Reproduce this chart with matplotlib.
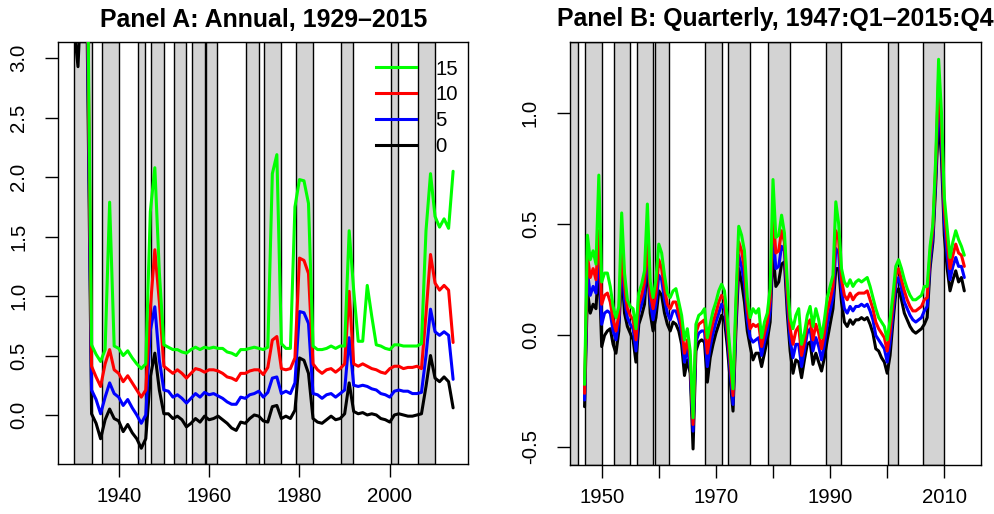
import numpy as np
import matplotlib
matplotlib.use('Agg')
import matplotlib.pyplot as plt
from matplotlib.lines import Line2D
from matplotlib.ticker import FormatStrFormatter

plt.rcParams['font.family'] = ['Liberation Sans', 'DejaVu Sans']

# Panel A: annual, 1930-2014
years_a = np.arange(1930, 2015)
a_0 = [3.30, 2.93, 3.80, 3.30, 0.01, -0.07, -0.20, -0.04, 0.05, -0.03,
       -0.05, -0.14, -0.08, -0.15, -0.20, -0.28, -0.20, 0.32, 0.52, 0.21,
       0.01, 0.01, -0.03, -0.01, -0.04, -0.10, -0.07, -0.03, -0.06, -0.01,
       -0.04, -0.03, -0.01, -0.04, -0.07, -0.11, -0.13, -0.06, -0.07, -0.03,
       0.00, -0.01, -0.05, -0.06, 0.07, 0.08, -0.03, -0.01, -0.03, 0.04,
       0.48, 0.46, 0.35, -0.03, -0.06, -0.07, -0.04, -0.01, -0.04, -0.03,
       0.01, 0.27, 0.03, 0.01, 0.02, 0.00, 0.01, 0.00, -0.03, -0.04,
       -0.06, 0.00, 0.01, 0.00, -0.01, -0.01, 0.00, 0.01, 0.24, 0.50,
       0.31, 0.28, 0.32, 0.28, 0.06]
a_5 = [3.60, 3.40, 4.20, 3.60, 0.21, 0.13, 0.01, 0.15, 0.27, 0.18,
       0.15, 0.08, 0.13, 0.06, 0.00, -0.07, 0.00, 0.71, 0.91, 0.46,
       0.21, 0.20, 0.15, 0.17, 0.14, 0.10, 0.14, 0.18, 0.15, 0.19,
       0.17, 0.18, 0.16, 0.14, 0.11, 0.09, 0.09, 0.15, 0.14, 0.17,
       0.18, 0.20, 0.15, 0.19, 0.31, 0.32, 0.18, 0.20, 0.18, 0.27,
       0.87, 0.86, 0.77, 0.18, 0.17, 0.14, 0.17, 0.18, 0.15, 0.18,
       0.21, 0.65, 0.25, 0.24, 0.25, 0.24, 0.22, 0.21, 0.18, 0.17,
       0.15, 0.20, 0.21, 0.20, 0.20, 0.18, 0.18, 0.19, 0.50, 0.89,
       0.70, 0.67, 0.70, 0.67, 0.30]
a_10 = [4.00, 3.70, 4.60, 3.85, 0.41, 0.32, 0.24, 0.43, 0.55, 0.38,
        0.35, 0.28, 0.33, 0.27, 0.21, 0.15, 0.21, 0.90, 1.39, 0.95,
        0.41, 0.38, 0.35, 0.38, 0.35, 0.31, 0.35, 0.39, 0.38, 0.36,
        0.38, 0.38, 0.37, 0.35, 0.32, 0.31, 0.29, 0.35, 0.35, 0.37,
        0.38, 0.38, 0.34, 0.40, 0.63, 0.66, 0.39, 0.38, 0.39, 0.48,
        1.32, 1.30, 1.19, 0.43, 0.38, 0.35, 0.38, 0.39, 0.36, 0.39,
        0.43, 1.04, 0.43, 0.41, 0.43, 0.41, 0.39, 0.38, 0.36, 0.35,
        0.39, 0.41, 0.41, 0.39, 0.40, 0.40, 0.41, 0.39, 0.85, 1.35,
        1.11, 1.05, 1.09, 1.05, 0.61]
a_15 = [4.40, 4.00, 5.00, 4.10, 0.59, 0.51, 0.45, 0.55, 1.79, 0.58,
        0.56, 0.50, 0.54, 0.48, 0.43, 0.39, 0.43, 1.71, 2.08, 1.20,
        0.59, 0.57, 0.55, 0.55, 0.53, 0.52, 0.55, 0.57, 0.55, 0.57,
        0.56, 0.57, 0.56, 0.56, 0.53, 0.52, 0.50, 0.55, 0.55, 0.56,
        0.57, 0.56, 0.55, 0.57, 2.03, 2.19, 0.60, 0.56, 0.56, 1.75,
        1.98, 1.97, 1.78, 0.58, 0.55, 0.55, 0.56, 0.58, 0.56, 0.58,
        0.58, 1.55, 1.05, 0.62, 0.62, 1.09, 0.83, 0.59, 0.58, 0.56,
        0.55, 0.59, 0.59, 0.58, 0.58, 0.58, 0.58, 0.60, 1.55, 2.03,
        1.67, 1.58, 1.65, 1.57, 2.05]

# Panel B: half-yearly readings, 1947.0-2013.5
t_b = np.arange(1947.0, 2014.0, 0.5)
b_0 = [-0.32, 0.20, 0.10, 0.14, 0.12, 0.33, -0.05, 0.00, 0.02, 0.03,
       -0.04, -0.08, 0.02, 0.30, 0.10, 0.04, 0.01, -0.02, -0.12, 0.05,
       0.09, 0.14, 0.34, 0.10, 0.02, 0.08, 0.20, 0.18, 0.10, 0.05,
       0.02, 0.06, 0.05, 0.02, -0.04, -0.18, -0.11, -0.17, -0.51, -0.07,
       -0.03, -0.02, -0.03, -0.21, -0.10, -0.04, 0.01, 0.05, 0.09, 0.07,
       -0.05, -0.20, -0.34, 0.02, 0.30, 0.24, 0.15, 0.02, -0.05, -0.11,
       -0.08, -0.08, -0.14, -0.08, -0.02, 0.06, 0.38, 0.22, 0.24, 0.32,
       0.33, 0.10, -0.07, -0.17, -0.11, -0.12, -0.19, -0.11, -0.04, -0.03,
       -0.13, -0.08, -0.12, -0.16, -0.10, -0.02, 0.05, 0.12, 0.30, 0.30,
       0.15, 0.06, 0.04, 0.07, 0.05, 0.07, 0.07, 0.08, 0.07, 0.08,
       0.05, 0.01, -0.06, -0.07, -0.10, -0.12, -0.17, -0.09, 0.06, 0.19,
       0.21, 0.16, 0.10, 0.07, 0.04, 0.02, 0.01, 0.02, 0.03, 0.05,
       0.08, 0.30, 0.42, 0.68, 0.99, 0.80, 0.45, 0.30, 0.20, 0.25,
       0.29, 0.24, 0.26, 0.20]
b_5 = [-0.29, 0.29, 0.18, 0.22, 0.19, 0.40, 0.05, 0.10, 0.11, 0.10,
       0.02, -0.02, 0.06, 0.35, 0.16, 0.08, 0.05, 0.03, -0.07, 0.10,
       0.14, 0.19, 0.39, 0.15, 0.07, 0.14, 0.27, 0.25, 0.16, 0.10,
       0.07, 0.11, 0.11, 0.07, 0.01, -0.12, -0.06, -0.14, -0.43, -0.03,
       0.01, 0.02, 0.02, -0.14, -0.05, 0.01, 0.06, 0.10, 0.14, 0.12,
       0.00, -0.16, -0.31, 0.07, 0.36, 0.31, 0.23, 0.07, -0.01, -0.03,
       -0.02, -0.01, -0.09, -0.03, 0.02, 0.11, 0.47, 0.30, 0.31, 0.40,
       0.38, 0.15, -0.02, -0.10, -0.04, -0.04, -0.14, -0.07, 0.01, 0.03,
       -0.07, -0.01, -0.05, -0.11, -0.04, 0.05, 0.11, 0.17, 0.39, 0.37,
       0.20, 0.12, 0.10, 0.13, 0.11, 0.13, 0.13, 0.14, 0.13, 0.14,
       0.11, 0.07, 0.00, -0.02, -0.04, -0.06, -0.12, -0.03, 0.10, 0.23,
       0.26, 0.21, 0.15, 0.12, 0.09, 0.07, 0.06, 0.07, 0.08, 0.11,
       0.13, 0.33, 0.45, 0.72, 1.09, 0.87, 0.51, 0.36, 0.25, 0.31,
       0.35, 0.31, 0.31, 0.26]
b_10 = [-0.26, 0.36, 0.26, 0.30, 0.25, 0.47, 0.14, 0.18, 0.19, 0.15,
        0.07, 0.02, 0.09, 0.39, 0.22, 0.12, 0.09, 0.07, -0.02, 0.14,
        0.18, 0.24, 0.43, 0.19, 0.12, 0.19, 0.34, 0.30, 0.21, 0.14,
        0.12, 0.15, 0.15, 0.10, 0.04, -0.08, -0.02, -0.10, -0.40, 0.01,
        0.05, 0.06, 0.07, -0.08, 0.00, 0.06, 0.10, 0.15, 0.18, 0.16,
        0.03, -0.12, -0.27, 0.11, 0.42, 0.38, 0.30, 0.12, 0.03, 0.05,
        0.04, 0.05, -0.05, 0.01, 0.06, 0.16, 0.55, 0.37, 0.38, 0.47,
        0.42, 0.19, 0.03, -0.04, 0.02, 0.04, -0.09, -0.03, 0.05, 0.07,
        -0.02, 0.05, 0.01, -0.06, 0.01, 0.11, 0.16, 0.22, 0.47, 0.43,
        0.25, 0.18, 0.16, 0.19, 0.16, 0.18, 0.19, 0.19, 0.19, 0.20,
        0.16, 0.12, 0.06, 0.03, 0.01, -0.01, -0.07, 0.02, 0.14, 0.27,
        0.30, 0.25, 0.20, 0.16, 0.13, 0.11, 0.11, 0.12, 0.13, 0.16,
        0.17, 0.37, 0.48, 0.76, 1.16, 0.93, 0.57, 0.42, 0.30, 0.36,
        0.41, 0.37, 0.36, 0.31]
b_15 = [-0.22, 0.45, 0.34, 0.38, 0.32, 0.72, 0.24, 0.28, 0.28, 0.22,
        0.13, 0.08, 0.13, 0.55, 0.28, 0.16, 0.13, 0.12, 0.03, 0.19,
        0.23, 0.29, 0.59, 0.24, 0.17, 0.25, 0.41, 0.37, 0.27, 0.19,
        0.17, 0.20, 0.21, 0.15, 0.09, -0.02, 0.03, -0.07, -0.37, 0.05,
        0.09, 0.10, 0.12, -0.01, 0.05, 0.11, 0.15, 0.20, 0.23, 0.20,
        0.08, -0.08, -0.24, 0.16, 0.49, 0.45, 0.38, 0.17, 0.08, 0.12,
        0.10, 0.12, -0.01, 0.06, 0.10, 0.21, 0.70, 0.44, 0.45, 0.54,
        0.46, 0.24, 0.08, 0.03, 0.09, 0.12, -0.04, 0.01, 0.09, 0.13,
        0.04, 0.12, 0.07, -0.01, 0.07, 0.17, 0.22, 0.27, 0.60, 0.50,
        0.30, 0.24, 0.22, 0.25, 0.22, 0.24, 0.25, 0.24, 0.25, 0.26,
        0.22, 0.17, 0.12, 0.08, 0.06, 0.04, -0.02, 0.07, 0.18, 0.31,
        0.34, 0.30, 0.25, 0.21, 0.18, 0.16, 0.16, 0.17, 0.18, 0.22,
        0.22, 0.40, 0.50, 0.80, 1.24, 1.00, 0.62, 0.48, 0.35, 0.42,
        0.47, 0.43, 0.40, 0.36]

# shaded periods (start, end)
bands = [(1930.2, 1934.0), (1936.2, 1940.0), (1944.2, 1945.9), (1947.1, 1950.0),
         (1952.15, 1954.9), (1956.2, 1959.0), (1959.25, 1961.85), (1968.15, 1971.0),
         (1972.2, 1975.95), (1979.2, 1983.0), (1989.2, 1991.85), (2000.2, 2001.9),
         (2006.3, 2010.0)]

labels = ['0', '5', '10', '15']
colors = ['black', '#0000FF', '#FF0000', '#00FF00']

fig = plt.figure(figsize=(9.95, 5.14), dpi=100)
axA = fig.add_axes([0.05859, 0.09669, 0.41206, 0.82101])
axB = fig.add_axes([0.57286, 0.09533, 0.41276, 0.82354])


def setup(ax):
    for s, e in bands:
        ax.axvspan(s, e, facecolor='#D3D3D3', edgecolor='black', linewidth=1.0, zorder=1)
    for sp in ax.spines.values():
        sp.set_linewidth(1.0)
        sp.set_color('black')
    ax.tick_params(direction='out', length=9.6, width=1.0, labelsize=14.7, colors='black')
    ax.tick_params(axis='y', labelrotation=90, pad=12)
    ax.tick_params(axis='x', pad=7)
    ax.yaxis.set_major_formatter(FormatStrFormatter('%.1f'))


# Panel A
setup(axA)
for ys, c in zip([a_0, a_5, a_10, a_15], colors):
    axA.plot(years_a, ys, color=c, lw=2.2, solid_joinstyle='round', solid_capstyle='round', zorder=3)
axA.set_xlim(1926.64, 2017.36)
axA.set_ylim(-0.415, 3.135)
axA.set_xticks([1940, 1960, 1980, 2000])
axA.set_yticks([0.0, 0.5, 1.0, 1.5, 2.0, 2.5, 3.0])
for lab in axA.get_yticklabels():
    lab.set_va('center')
axA.set_title('Panel A: Annual, 1929\u20132015', fontsize=17.9, fontweight='bold', pad=11)

handles = [Line2D([], [], color=c, lw=2.2) for c in colors[::-1]]
axA.legend(handles, labels[::-1], loc='upper left', bbox_to_anchor=(0.775, 0.959),
           frameon=False, fontsize=14.7, handlelength=1.96, handletextpad=0.93,
           labelspacing=0.33, borderpad=0, borderaxespad=0)

# Panel B
setup(axB)
for ys, c in zip([b_0, b_5, b_10, b_15], colors):
    axB.plot(t_b, ys, color=c, lw=2.2, solid_joinstyle='round', solid_capstyle='round', zorder=3)
axB.set_xlim(1944.45, 2016.37)
axB.set_ylim(-0.582, 1.319)
axB.set_xticks([1950, 1960, 1970, 1980, 1990, 2000, 2010])
axB.set_xticklabels(['1950', '', '1970', '', '1990', '', '2010'])
axB.set_yticks([-0.5, 0.0, 0.5, 1.0])
for lab in axB.get_yticklabels():
    lab.set_va('center')
axB.set_title('Panel B: Quarterly, 1947:Q1\u20132015:Q4', fontsize=17.9, fontweight='bold', pad=11)

fig.savefig('out.png', dpi=100)
